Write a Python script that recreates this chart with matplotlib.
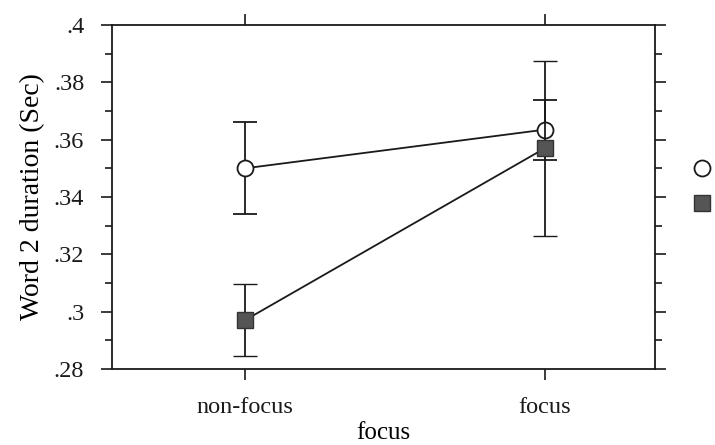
import matplotlib.pyplot as plt
from matplotlib.ticker import MultipleLocator, FixedLocator
from matplotlib.lines import Line2D

categories = ["non-focus", "focus"]
circle_means = [0.350, 0.3635]
circle_err = [0.016, 0.0105]
square_means = [0.297, 0.357]
square_err = [0.0125, 0.0305]
y_ticks = [0.28, 0.30, 0.32, 0.34, 0.36, 0.38, 0.40]
y_tick_labels = [".28", ".3", ".32", ".34", ".36", ".38", ".4"]


def main():
  plt.rcParams['font.family'] = ['Liberation Serif', 'DejaVu Serif']
  fig = plt.figure(figsize=(7.15, 4.45), dpi=100)
  ax = fig.add_axes([0.1566, 0.1708, 0.7594, 0.773])

  x = list(range(len(categories)))
  ax.errorbar(x, circle_means, yerr=circle_err, color='#1a1a1a', linewidth=1.3,
              elinewidth=1.3, capsize=8.5, capthick=1.3, marker='o', markersize=11.5,
              markerfacecolor='white', markeredgecolor='#1a1a1a', markeredgewidth=1.3, zorder=2)
  ax.errorbar(x, square_means, yerr=square_err, color='#1a1a1a', linewidth=1.3,
              elinewidth=1.3, capsize=8.5, capthick=1.3, marker='s', markersize=11,
              markerfacecolor='#555555', markeredgecolor='#333333', markeredgewidth=1.0, zorder=3)

  ax.set_xlim(-0.443, 1.367)
  ax.set_ylim(0.28, 0.40)
  ax.set_xticks(x)
  ax.set_xticklabels(categories)
  ax.yaxis.set_major_locator(FixedLocator(y_ticks))
  ax.set_yticklabels(y_tick_labels)
  ax.yaxis.set_minor_locator(MultipleLocator(0.01))

  ax.tick_params(axis='both', which='both', direction='out', labelsize=17.5, width=1.2,
                 top=True, right=True, labeltop=False, labelright=False, colors='#1a1a1a')
  ax.tick_params(axis='both', which='major', length=8)
  ax.tick_params(axis='both', which='minor', length=5)
  ax.tick_params(axis='y', which='major', pad=12)
  ax.tick_params(axis='x', which='major', length=8, pad=12)
  for s in ax.spines.values():
    s.set_linewidth(1.3)
    s.set_color('#1a1a1a')

  ax.set_xlabel("focus", fontsize=18, labelpad=3)
  ax.set_ylabel("Word 2 duration (Sec)", fontsize=20, labelpad=6)

  handles = [Line2D([], [], linestyle='none', marker='o', markersize=11.5, markerfacecolor='white',
                    markeredgecolor='#1a1a1a', markeredgewidth=1.3),
             Line2D([], [], linestyle='none', marker='s', markersize=12, markerfacecolor='#555555',
                    markeredgecolor='#333333')]
  fig.legend(handles, ['', ''], loc='upper left', bbox_to_anchor=(0.963, 0.65),
             frameon=False, handlelength=1.0, labelspacing=1.6, borderpad=0, fontsize=10)

  fig.savefig("out.png", dpi=100)


if __name__ == "__main__":
  main()
